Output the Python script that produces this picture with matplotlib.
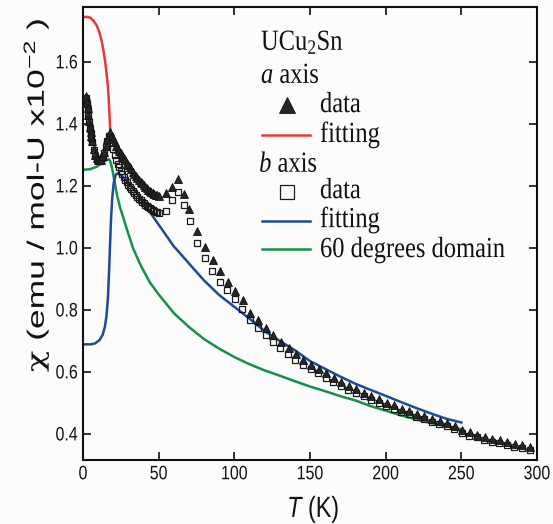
import matplotlib
matplotlib.use("Agg")
import matplotlib.pyplot as plt
from matplotlib.patheffects import AbstractPathEffect
from matplotlib.transforms import Affine2D

# ---------------- data ----------------
# a axis, measured susceptibility (x10^-2 emu/mol-U)
a_T = [2, 2.5, 3, 3.5, 4, 4.5, 5, 5.5, 6, 7, 8, 9, 10, 11, 12, 13, 14, 15, 16, 17,
       18, 19, 20, 21, 22, 23, 24, 25, 26, 27, 28, 29, 30, 31, 32, 33, 34, 35, 36,
       37, 38, 39, 40, 41, 42, 43, 44, 45, 46, 47, 48, 49, 50,
       54.6, 58.6, 62.6, 66.8, 70.3, 75.6, 80.6, 85.7, 90.5, 95.6, 100.5, 105.5,
       110.4, 115.9, 121.0, 125.8, 130.8, 135.8, 140.7, 145.7, 150.7, 155.7, 160.7,
       165.7, 170.7, 175.7, 180.7, 185.7, 190.6, 195.6, 200.6, 205.6, 210.6, 215.6,
       220.6, 225.6, 230.6, 235.6, 240.6, 245.6, 250.6, 255.6, 260.5, 265.5, 270.4,
       275.4, 280.4, 285.4, 290.4, 295.4]
a_chi = [1.49, 1.47, 1.45, 1.43, 1.41, 1.39, 1.375, 1.36, 1.345, 1.32, 1.30, 1.29,
         1.285, 1.283, 1.285, 1.295, 1.31, 1.33, 1.35, 1.365, 1.375, 1.362, 1.35,
         1.34, 1.33, 1.32, 1.312, 1.305, 1.297, 1.29, 1.282, 1.275, 1.268, 1.26,
         1.253, 1.246, 1.24, 1.233, 1.226, 1.22, 1.214, 1.208, 1.203, 1.198, 1.193,
         1.188, 1.184, 1.18, 1.177, 1.174, 1.172, 1.17, 1.168,
         1.176, 1.198, 1.223, 1.173, 1.126, 1.055, 1.002, 0.961, 0.926, 0.891,
         0.862, 0.832, 0.791, 0.766, 0.741, 0.719, 0.698, 0.677, 0.658, 0.640,
         0.624, 0.610, 0.595, 0.582, 0.569, 0.556, 0.545, 0.533, 0.522, 0.512,
         0.501, 0.492, 0.482, 0.474, 0.465, 0.457, 0.449, 0.442, 0.434, 0.425,
         0.414, 0.405, 0.398, 0.391, 0.385, 0.379, 0.374, 0.368, 0.364, 0.358]

# b axis, measured susceptibility
b_T = [2, 2.5, 3, 3.5, 4, 4.5, 5, 5.5, 6, 7, 8, 9, 10, 11, 12, 13, 14, 15, 16, 17,
       18, 19, 20, 21, 22, 23, 24, 25, 26, 27, 28, 29, 30, 31, 32, 33, 34, 35, 36,
       37, 38, 39, 40, 41, 42, 43, 44, 45, 46, 47, 48, 49, 50,
       54.6, 58.6, 62.6, 66.6, 70.6, 75.4, 80.3, 85.4, 90.3, 95.3, 100.4, 105.3,
       110.4, 115.6, 120.6, 125.6, 130.5, 135.5, 140.4, 145.5, 150.5, 155.5, 160.5,
       165.4, 170.4, 175.4, 180.4, 185.4, 190.3, 195.3, 200.3, 205.3, 210.3, 215.3,
       220.3, 225.3, 230.3, 235.3, 240.3, 245.3, 250.3, 255.3, 260.2, 265.2, 270.1,
       275.1, 280.1, 285.1, 290.1, 295.1]
b_chi = [1.485, 1.465, 1.445, 1.425, 1.405, 1.385, 1.37, 1.355, 1.34, 1.315, 1.298,
         1.288, 1.282, 1.28, 1.283, 1.292, 1.307, 1.325, 1.345, 1.36, 1.36, 1.34,
         1.32, 1.30, 1.285, 1.272, 1.26, 1.249, 1.239, 1.229, 1.22, 1.211, 1.203,
         1.196, 1.189, 1.182, 1.176, 1.17, 1.164, 1.159, 1.154, 1.149, 1.144, 1.14,
         1.136, 1.132, 1.128, 1.125, 1.122, 1.119, 1.117, 1.115, 1.114,
         1.120, 1.155, 1.180, 1.139, 1.088, 1.016, 0.967, 0.927, 0.891, 0.864,
         0.835, 0.802, 0.768, 0.742, 0.720, 0.698, 0.677, 0.659, 0.640, 0.623,
         0.608, 0.595, 0.581, 0.568, 0.555, 0.543, 0.532, 0.521, 0.511, 0.500,
         0.490, 0.481, 0.472, 0.463, 0.455, 0.447, 0.439, 0.432, 0.425, 0.416,
         0.404, 0.395, 0.389, 0.382, 0.375, 0.370, 0.365, 0.359, 0.356, 0.349]

# a axis fitting
fit_a_T = [0, 3, 5, 7, 9, 10.5, 12, 13.4, 14.5, 15.5, 16.3, 17, 17.5, 18]
fit_a_chi = [1.745, 1.745, 1.742, 1.732, 1.718, 1.70, 1.675, 1.64, 1.605, 1.565,
             1.53, 1.48, 1.43, 1.38]

# b axis fitting
fit_b_T = [0, 5, 8, 11, 13, 14.5, 15.5, 16.5, 17.2, 17.8, 18.5, 19.3, 20.3, 21.5,
           22.5, 25, 30, 35.4, 40, 45, 50, 55, 60, 65, 70, 80, 90, 100, 110, 120,
           130, 140, 150, 160, 170, 180, 190, 200, 210, 220, 230, 240, 250]
fit_b_chi = [0.689, 0.689, 0.692, 0.703, 0.72, 0.746, 0.78, 0.84, 0.92, 1.0, 1.09,
             1.16, 1.21, 1.235, 1.24, 1.235, 1.21, 1.178, 1.145, 1.11, 1.075, 1.04,
             1.005, 0.978, 0.95, 0.895, 0.848, 0.81, 0.772, 0.732, 0.70, 0.67,
             0.635, 0.61, 0.585, 0.562, 0.542, 0.523, 0.503, 0.484, 0.466, 0.449,
             0.437]

# 60 degrees domain
dom_T = [0, 5, 9, 12, 15, 17, 18, 19.5, 21, 22.5, 24.5, 26.5, 29, 33, 38, 44, 50,
         60, 70, 80, 90, 100, 110, 120, 130, 140, 150, 160, 170, 180, 190, 200,
         210, 220, 230, 240, 250]
dom_chi = [1.252, 1.254, 1.262, 1.272, 1.282, 1.286, 1.28, 1.25, 1.21, 1.17, 1.13,
           1.10, 1.06, 1.0, 0.945, 0.89, 0.85, 0.79, 0.745, 0.706, 0.675, 0.648,
           0.625, 0.605, 0.588, 0.57, 0.553, 0.538, 0.522, 0.508, 0.49, 0.475,
           0.46, 0.447, 0.435, 0.425, 0.415]

x_ticks = [0, 50, 100, 150, 200, 250, 300]
y_ticks = [0.4, 0.6, 0.8, 1.0, 1.2, 1.4, 1.6]

RED = "#e8383d"
BLUE = "#1d4a9c"
GREEN = "#14904a"


class Stretch(AbstractPathEffect):
    """Scale text glyphs along the reading direction."""

    def __init__(self, sx, anchor="left"):
        super().__init__()
        self.sx = sx
        self.anchor = anchor

    def draw_path(self, renderer, gc, tpath, affine, rgbFace=None):
        ext = tpath.get_extents()
        if self.anchor == "center":
            cx = 0.5 * (ext.x0 + ext.x1)
        elif self.anchor == "right":
            cx = ext.x1
        else:
            cx = 0.0
        t = Affine2D().translate(-cx, 0).scale(self.sx, 1).translate(cx, 0)
        renderer.draw_path(gc, tpath, t + affine, rgbFace)


plt.rcParams["font.family"] = ["Liberation Sans", "DejaVu Sans"]
plt.rcParams["mathtext.fontset"] = "custom"
plt.rcParams["mathtext.default"] = "regular"
plt.rcParams["mathtext.it"] = "Liberation Serif:italic"
plt.rcParams["mathtext.sf"] = "Liberation Sans:italic"
plt.rcParams["mathtext.cal"] = "DejaVu Serif"

fig = plt.figure(figsize=(5.53, 5.24), dpi=100, facecolor="#fcfcfa")
ax = fig.add_axes([83 / 553, 64 / 524, 454 / 553, 453 / 524])
ax.set_facecolor("none")

# fitted curves
ax.plot(fit_a_T, fit_a_chi, color=RED, lw=1.8, zorder=2)
ax.plot(dom_T, dom_chi, color=GREEN, lw=1.8, zorder=2)
ax.plot(fit_b_T, fit_b_chi, color=BLUE, lw=1.8, zorder=2)

# measured points
ax.plot(b_T, b_chi, ls="none", marker="s", ms=4.6, mfc="none", mec="#1a1a1a",
        mew=0.9, zorder=3)
ax.plot(a_T, a_chi, ls="none", marker="^", ms=5.4, mfc="#262626", mec="#111111",
        mew=0.6, zorder=4)

ax.set_xlim(0, 300)
ax.set_ylim(0.316, 1.777)
ax.set_xticks(x_ticks)
ax.set_yticks(y_ticks)
ax.set_xticklabels([str(v) for v in x_ticks])
ax.set_yticklabels([f"{v:.1f}" for v in y_ticks])
ax.tick_params(direction="in", length=6, width=1.2, top=True, right=True,
               labelsize=14, colors="#111111")
ax.tick_params(axis="x", pad=4.5)
ax.tick_params(axis="y", pad=3.6)
for s in ax.spines.values():
    s.set_linewidth(1.5)
    s.set_color("#111111")

for lab in ax.get_xticklabels():
    lab.set_path_effects([Stretch(0.82, "center")])
for lab in ax.get_yticklabels():
    lab.set_path_effects([Stretch(0.82, "right")])

# axis labels
ax.set_xlabel(r"$\mathsf{T}$ (K)", fontsize=21, color="#111111")
ax.xaxis.label.set_va("baseline")
ax.xaxis.set_label_coords(0.507, -0.126)
ax.xaxis.label.set_path_effects([Stretch(0.8, "center")])

ax.set_ylabel(r"$\mathcal{χ}$ (emu / mol-U x10$^{-2}$ )", fontsize=17,
              color="#111111")
ax.yaxis.label.set_va("center")
ax.yaxis.set_label_coords(-0.104, 0.585)
ax.yaxis.label.set_path_effects([Stretch(1.5, "center")])

# key panel
serif = ["Liberation Serif", "DejaVu Serif"]
tk = dict(transform=ax.transAxes, fontsize=21, family=serif, va="baseline",
          color="#111111", path_effects=[Stretch(0.84)])
ax.text(0.392, 0.905, "UCu$_2$Sn", **tk)
ax.text(0.392, 0.832, r"$\mathit{a}$ axis", **tk)
ax.text(0.522, 0.768, "data", **tk)
ax.text(0.522, 0.702, "fitting", **tk)
ax.text(0.388, 0.636, r"$\mathit{b}$ axis", **tk)
ax.text(0.522, 0.578, "data", **tk)
ax.text(0.522, 0.514, "fitting", **tk)
ax.text(0.522, 0.448, "60 degrees domain", **tk)

kk = dict(transform=ax.transAxes, clip_on=False)
ax.plot([0.449], [0.784], ls="none", marker="^", ms=11, mfc="#262626",
        mec="#111111", mew=0.6, **kk)
ax.plot([0.394, 0.50], [0.717, 0.717], color=RED, lw=1.8, **kk)
ax.plot([0.449], [0.591], ls="none", marker="s", ms=10, mfc="none",
        mec="#1a1a1a", mew=0.9, **kk)
ax.plot([0.394, 0.50], [0.528, 0.528], color=BLUE, lw=1.8, **kk)
ax.plot([0.394, 0.50], [0.466, 0.466], color=GREEN, lw=1.8, **kk)

fig.savefig("out.png", dpi=100, facecolor=fig.get_facecolor())
